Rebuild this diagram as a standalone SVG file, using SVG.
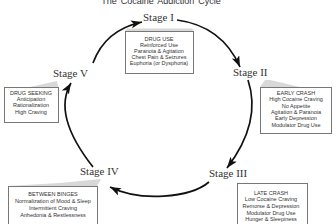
<svg xmlns="http://www.w3.org/2000/svg" width="336" height="224" viewBox="0 0 336 224">
<style>
.title{font-family:"Liberation Sans",Arial,sans-serif;font-size:9px;fill:#333;word-spacing:1.5px}
.stage{font-family:"Liberation Serif","Times New Roman",serif;font-size:11px;fill:#333}
.bt{font-family:"Liberation Sans",Arial,sans-serif;font-size:5.5px;fill:#333;text-anchor:middle}
.box{fill:#fff;stroke:#777;stroke-width:1}
.wedge{fill:#d8d8d8;stroke:none}
.arc{fill:none;stroke:#111;stroke-width:1.7;marker-end:url(#ah)}
</style>
<defs>
<marker id="ah" markerUnits="userSpaceOnUse" markerWidth="12" markerHeight="9" refX="11" refY="4" orient="auto">
<path d="M0,0 L11,4 L0,8 L2.5,4 Z" fill="#111"/>
</marker>
</defs>
<rect width="336" height="224" fill="#fff"/>
<text class="title" x="161" y="3.5" text-anchor="middle">The Cocaine Addiction Cycle</text>
<g id="connectors">
<path class="arc" d="M93,63 Q105,30 142,22"/>
<path class="arc" d="M177,20 Q222,26 240,67"/>
<path class="arc" d="M248,80 Q262,122 227,168"/>
<path class="arc" d="M209,182 C190,198 140,202 110,187"/>
<path class="arc" d="M93,167 Q52,115 71,83"/>
</g>
<g id="stage1">
<text class="stage" x="143" y="21">Stage I</text>
<polygon class="wedge" points="127,28.5 192,28.5 194,31 125,31"/>
<rect class="box" x="125.5" y="31.5" width="68" height="42"/>
<text class="bt" x="159" y="41">DRUG USE</text>
<text class="bt" x="159" y="47">Reinforced Use</text>
<text class="bt" x="159" y="53">Paranoia &amp; Agitation</text>
<text class="bt" x="159" y="59">Chest Pain &amp; Seizures</text>
<text class="bt" x="159" y="65">Euphoria (or Dysphoria)</text>
</g>
<g id="stage2">
<text class="stage" x="233" y="76">Stage II</text>
<polygon class="wedge" points="265,80 270,80 300,87 260,87"/>
<rect class="box" x="260.5" y="87.5" width="71" height="46"/>
<text class="bt" x="296" y="95">EARLY CRASH</text>
<text class="bt" x="296" y="101">High Cocaine Craving</text>
<text class="bt" x="296" y="107.5">No Appetite</text>
<text class="bt" x="296" y="114">Agitation &amp; Paranoia</text>
<text class="bt" x="296" y="120">Early Depression</text>
<text class="bt" x="296" y="126.5">Modulator Drug Use</text>
</g>
<g id="stage3">
<text class="stage" x="209" y="177">Stage III</text>
<rect class="box" x="237.5" y="183.5" width="70" height="45"/>
<text class="bt" x="271" y="195">LATE CRASH</text>
<text class="bt" x="271" y="201">Low Cocaine Craving</text>
<text class="bt" x="271" y="208">Remorse &amp; Depression</text>
<text class="bt" x="271" y="215">Modulator Drug Use</text>
<text class="bt" x="271" y="221">Hunger &amp; Sleepiness</text>
</g>
<g id="stage4">
<text class="stage" x="80" y="175">Stage IV</text>
<polygon class="wedge" points="8,186 97,186 101,179 60,183"/>
<rect class="box" x="8.5" y="186.5" width="89" height="42"/>
<text class="bt" x="53" y="196">BETWEEN BINGES</text>
<text class="bt" x="53" y="203">Normalization of Mood &amp; Sleep</text>
<text class="bt" x="53" y="210">Intermittent Craving</text>
<text class="bt" x="53" y="217">Anhedonia &amp; Restlessness</text>
</g>
<g id="stage5">
<text class="stage" x="53" y="77">Stage V</text>
<polygon class="wedge" points="30,87 58,87 57,81"/>
<rect class="box" x="4.5" y="87.5" width="54" height="35"/>
<text class="bt" x="31" y="95">DRUG SEEKING</text>
<text class="bt" x="31" y="101">Anticipation</text>
<text class="bt" x="31" y="107">Rationalization</text>
<text class="bt" x="31" y="114">High Craving</text>
</g>
</svg>
